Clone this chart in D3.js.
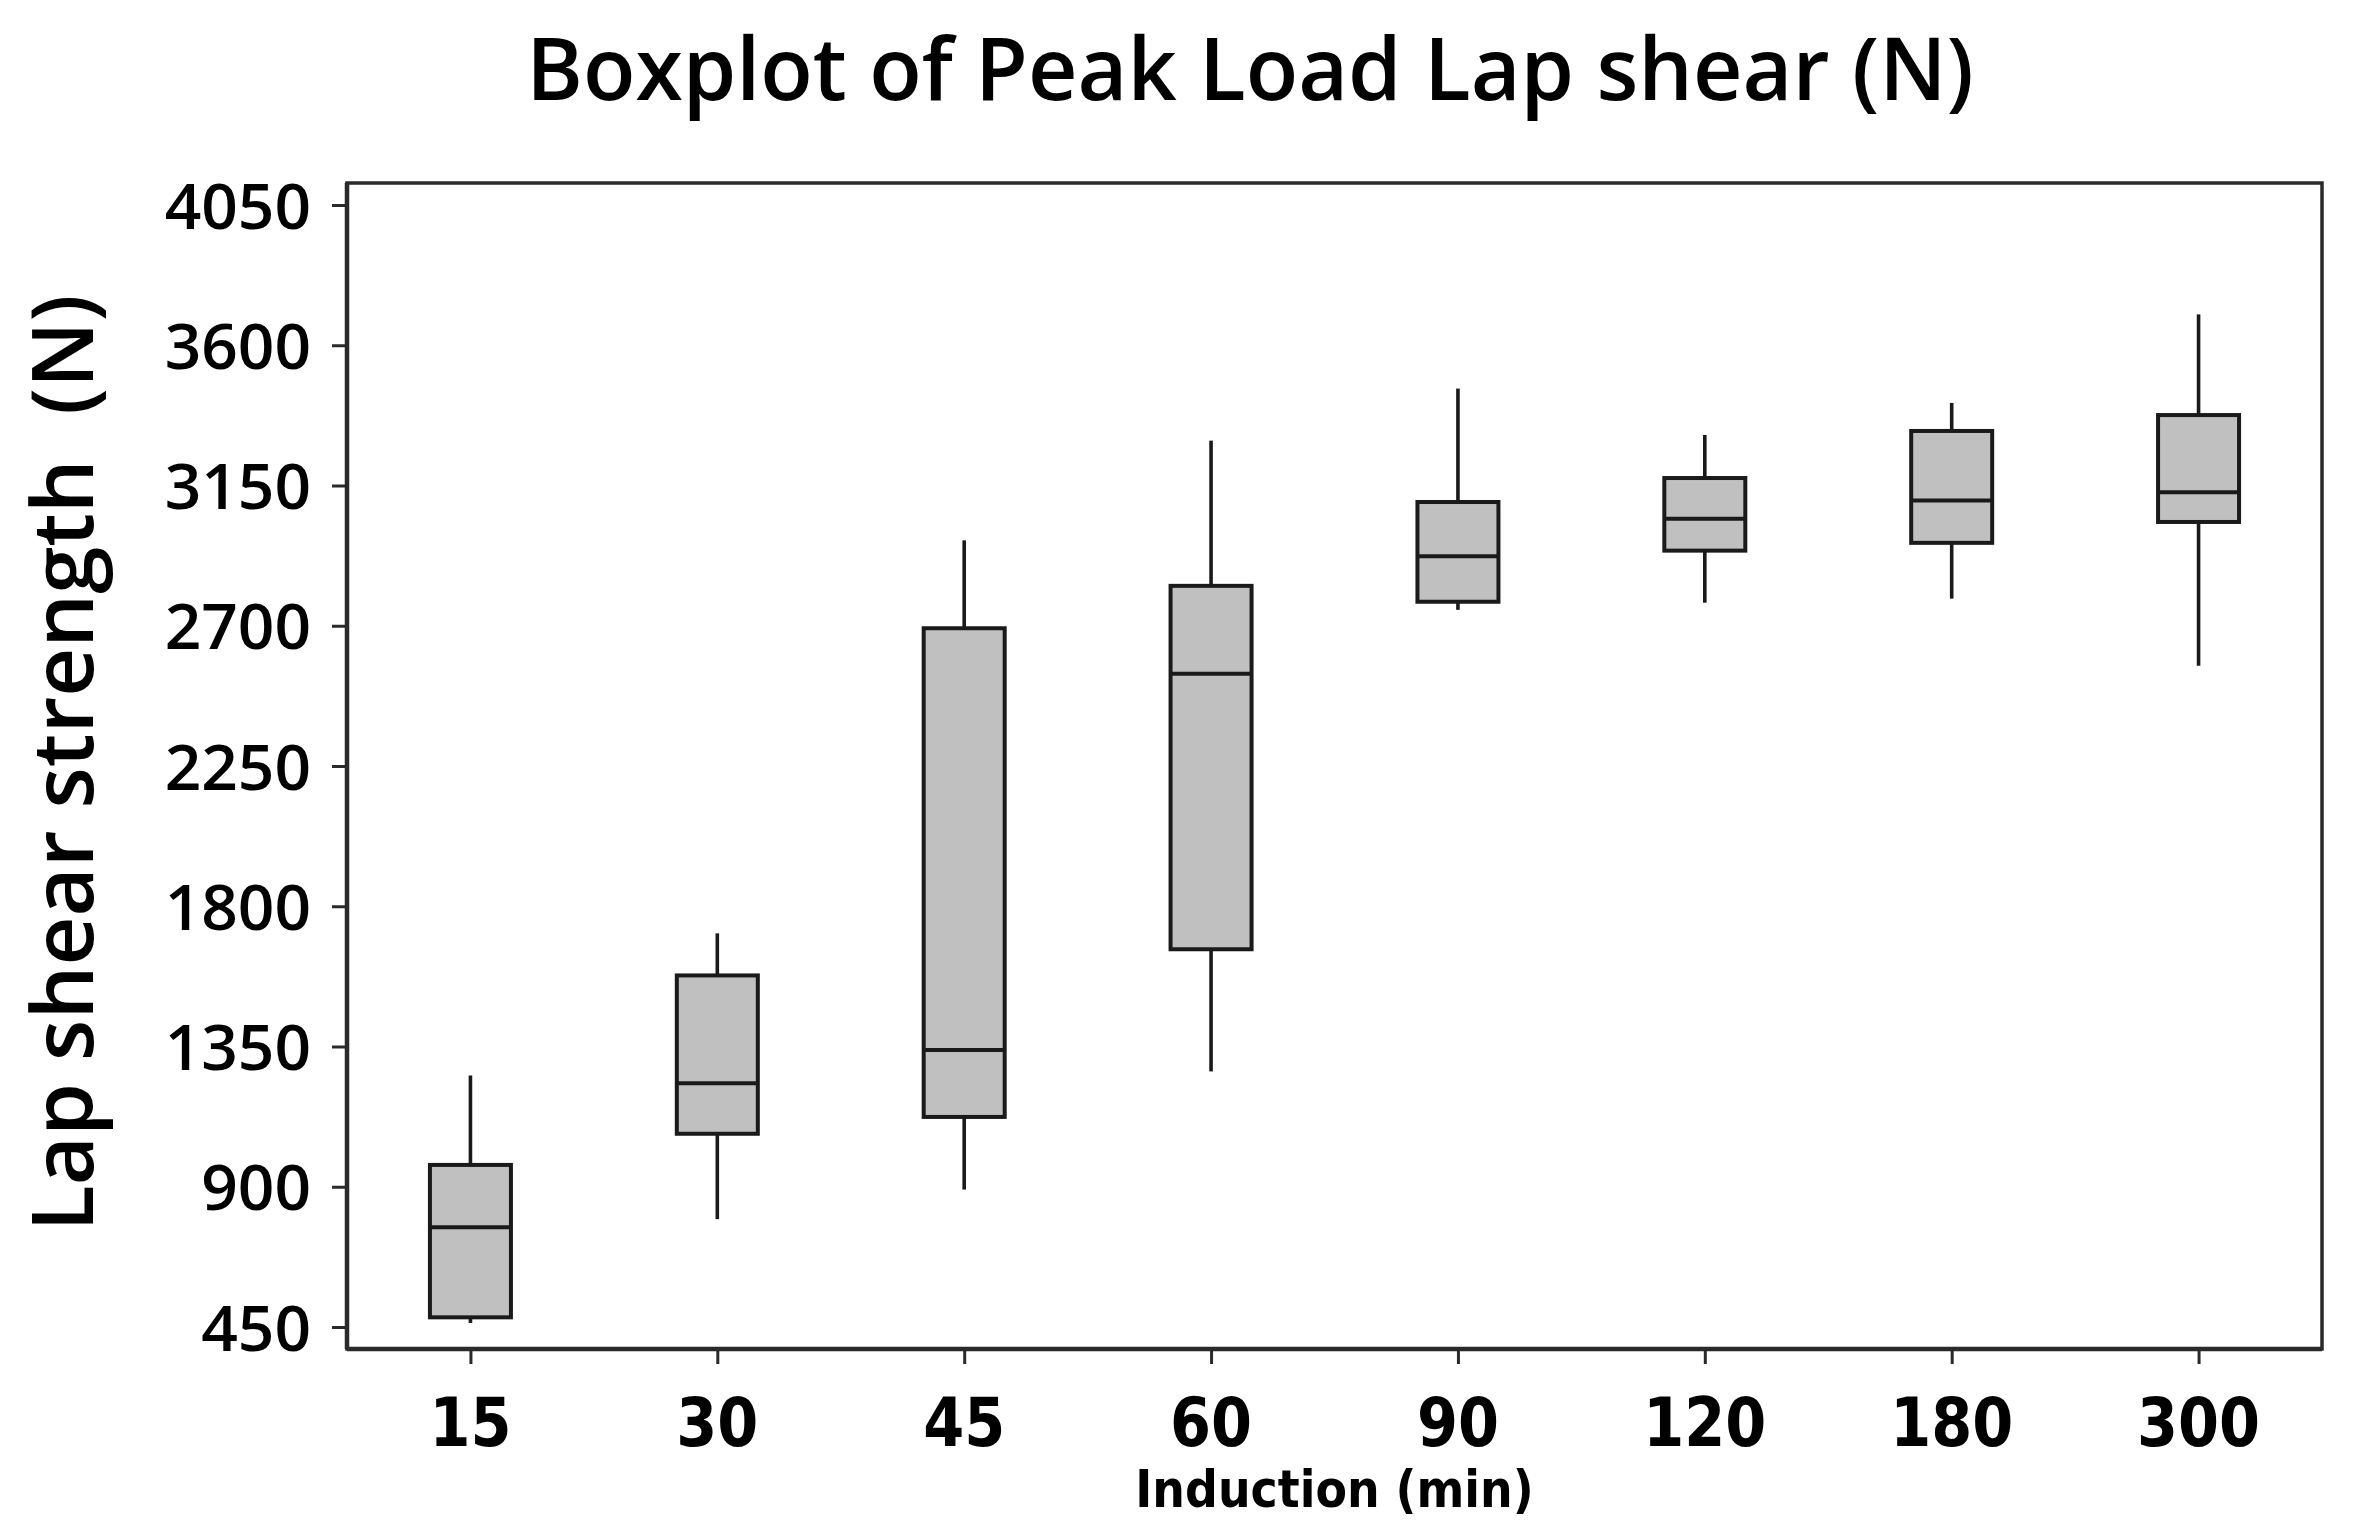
<!DOCTYPE html>
<html>
<head>
<meta charset="utf-8">
<script src="https://cdn.jsdelivr.net/npm/d3@7"></script>
<style>
  html, body { margin: 0; padding: 0; background: #fff; }
  svg { display: block; }
  text { white-space: pre; }
</style>
</head>
<body>
<svg id="chart" width="2354" height="1539"></svg>
<script>
// ---- data ----
const categories  = ["15", "30", "45", "60", "90", "120", "180", "300"];
const whiskerLow  = [463, 796, 891, 1270, 2751, 2774, 2787, 2572];
const q1          = [481, 1070, 1124, 1662, 2777, 2941, 2966, 3033];
const median      = [770, 1232, 1339, 2546, 2923, 3043, 3102, 3128];
const q3          = [970, 1578, 2692, 2828, 3097, 3174, 3325, 3376];
const whiskerHigh = [1257, 1713, 2974, 3294, 3461, 3312, 3415, 3699];
const yTicks      = [450, 900, 1350, 1800, 2250, 2700, 3150, 3600, 4050];

const titleText  = "Boxplot of Peak Load Lap shear (N)";
const yLabelText = "Lap shear strength  (N)";
const xLabelText = "Induction (min)";

// ---- layout ----
const W = 2354, H = 1539;
const frame = { left: 347, right: 2322, top: 183, bottom: 1349 };
const svg = d3.select("#chart");
svg.append("rect").attr("width", W).attr("height", H).attr("fill", "#fff");

const x = d3.scalePoint().domain(categories).range([frame.left, frame.right]).padding(0.5);
const y = d3.scaleLinear().domain([450, 4050]).range([1327, 205]);

const boxes = categories.map((c, i) => ({
  c, lo: whiskerLow[i], q1: q1[i], med: median[i], q3: q3[i], hi: whiskerHigh[i]
}));

const boxW = 81;
const stroke = "#1a1a1a";

// whiskers
const g = svg.append("g");
g.selectAll("line.wh-hi").data(boxes).join("line")
  .attr("x1", d => x(d.c)).attr("x2", d => x(d.c))
  .attr("y1", d => y(d.q3)).attr("y2", d => y(d.hi))
  .attr("stroke", stroke).attr("stroke-width", 3.6);
g.selectAll("line.wh-lo").data(boxes).join("line")
  .attr("x1", d => x(d.c)).attr("x2", d => x(d.c))
  .attr("y1", d => y(d.q1)).attr("y2", d => y(d.lo))
  .attr("stroke", stroke).attr("stroke-width", 3.6);

// boxes
g.selectAll("rect.box").data(boxes).join("rect")
  .attr("x", d => x(d.c) - boxW / 2)
  .attr("width", boxW)
  .attr("y", d => y(d.q3))
  .attr("height", d => y(d.q1) - y(d.q3))
  .attr("fill", "#c0c0c0")
  .attr("stroke", stroke).attr("stroke-width", 4);

// medians
g.selectAll("line.med").data(boxes).join("line")
  .attr("x1", d => x(d.c) - boxW / 2).attr("x2", d => x(d.c) + boxW / 2)
  .attr("y1", d => y(d.med)).attr("y2", d => y(d.med))
  .attr("stroke", stroke).attr("stroke-width", 4);

// frame (top & right)
svg.append("rect")
  .attr("x", frame.left).attr("y", frame.top)
  .attr("width", frame.right - frame.left).attr("height", frame.bottom - frame.top)
  .attr("fill", "none").attr("stroke", "#2a2a2a").attr("stroke-width", 3.5);

// y axis
const yAxis = d3.axisLeft(y).tickValues(yTicks).tickFormat(d3.format("d"))
  .tickSize(15).tickPadding(21).tickSizeOuter(0);
const yg = svg.append("g").attr("transform", `translate(${frame.left},0)`).call(yAxis);
yg.select(".domain").remove();
yg.selectAll(".tick line").attr("stroke", "#2a2a2a").attr("stroke-width", 3);
yg.selectAll(".tick text")
  .attr("font-family", "'Open Sans', sans-serif")
  .attr("font-weight", 600)
  .attr("font-size", 64)
  .attr("fill", "#000")
  .attr("dy", "0.36em");
svg.append("line").attr("x1", frame.left).attr("x2", frame.left)
  .attr("y1", frame.top).attr("y2", frame.bottom)
  .attr("stroke", "#2a2a2a").attr("stroke-width", 4.5);

// x axis
const xAxis = d3.axisBottom(x).tickSize(15).tickSizeOuter(0).tickFormat("");
const xg = svg.append("g").attr("transform", `translate(0,${frame.bottom})`).call(xAxis);
xg.select(".domain").remove();
xg.selectAll(".tick line").attr("stroke", "#2a2a2a").attr("stroke-width", 3);
svg.append("line").attr("x1", frame.left).attr("x2", frame.right)
  .attr("y1", frame.bottom).attr("y2", frame.bottom)
  .attr("stroke", "#2a2a2a").attr("stroke-width", 4.5);

// x tick labels (bold, horizontally condensed)
svg.append("g").selectAll("text").data(categories).join("text")
  .attr("transform", d => `translate(${x(d)},1446) scale(0.88,1)`)
  .attr("text-anchor", "middle")
  .attr("font-family", "'DejaVu Sans', sans-serif")
  .attr("font-weight", "bold")
  .attr("font-size", 67)
  .attr("fill", "#000")
  .text(d => d);

// x axis label
svg.append("text")
  .attr("transform", `translate(${(frame.left + frame.right) / 2},1507) scale(0.9,1)`)
  .attr("text-anchor", "middle")
  .attr("font-family", "'DejaVu Sans', sans-serif")
  .attr("font-weight", "bold")
  .attr("font-size", 51)
  .attr("fill", "#000")
  .text(xLabelText);

// y axis label
svg.append("text")
  .attr("transform", `translate(93,763) rotate(-90)`)
  .attr("text-anchor", "middle")
  .attr("font-family", "'Open Sans', sans-serif")
  .attr("font-weight", 600)
  .attr("font-size", 85)
  .attr("fill", "#000")
  .text(yLabelText);

// title
svg.append("text")
  .attr("x", 1250).attr("y", 100)
  .attr("text-anchor", "middle")
  .attr("font-family", "'Open Sans', sans-serif")
  .attr("font-weight", 600)
  .attr("font-size", 86)
  .attr("fill", "#000")
  .text(titleText);
</script>
</body>
</html>
